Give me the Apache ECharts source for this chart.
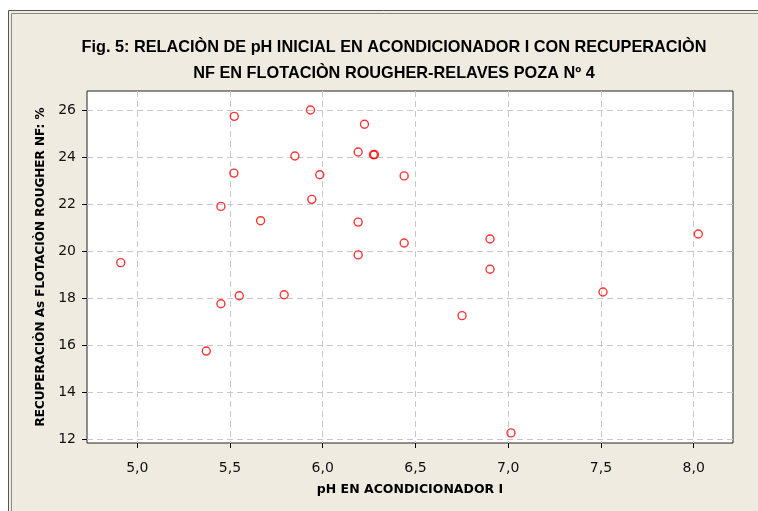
<!DOCTYPE html>
<html>
<head>
<meta charset="utf-8">
<script src="https://cdn.jsdelivr.net/npm/echarts@6/dist/echarts.min.js"></script>
<style>
html,body{margin:0;padding:0;background:#fff;}
#c{width:758px;height:511px;}
</style>
</head>
<body>
<div id="c"></div>
<script>
// pH inicial en acondicionador I
var phValues = [4.911, 5.372, 5.451, 5.451, 5.523, 5.521, 5.550, 5.665, 5.792, 5.850,
                5.934, 5.941, 5.984, 6.191, 6.225, 6.191, 6.273, 6.279, 6.191, 6.439,
                6.439, 6.751, 6.902, 6.902, 7.015, 7.511, 8.025];
// Recuperación As flotación rougher NF (%)
var recValues = [19.52, 15.75, 17.77, 21.92, 25.76, 23.34, 18.11, 21.31, 18.15, 24.07,
                 26.03, 22.22, 23.27, 24.24, 25.42, 21.25, 24.12, 24.13, 19.85, 23.22,
                 20.36, 17.26, 20.53, 19.24, 12.26, 18.27, 20.74];
var xTicks = [5.0, 5.5, 6.0, 6.5, 7.0, 7.5, 8.0];
var yTicks = [12, 14, 16, 18, 20, 22, 24, 26];
var titleText = 'Fig. 5: RELACIÒN DE pH INICIAL EN ACONDICIONADOR I CON RECUPERACIÒN\nNF EN FLOTACIÒN ROUGHER-RELAVES POZA Nº 4';
var xName = 'pH EN ACONDICIONADOR I';
var yName = 'RECUPERACIÒN As FLOTACIÒN ROUGHER NF: %';

var points = phValues.map(function (v, i) { return [v, recValues[i]]; });

var chart = echarts.init(document.getElementById('c'));
var gridDash = { color: '#c8c8c8', width: 1, type: [6, 4] };
chart.setOption({
  backgroundColor: '#ffffff',
  animation: false,
  graphic: [
    { type: 'rect', z: -10, silent: true,
      shape: { x: 8.5, y: 10.5, width: 800, height: 600 },
      style: { fill: '#efebe1', stroke: '#555555', lineWidth: 1 } },
    { type: 'rect', z: -9, silent: true,
      shape: { x: 11.5, y: 13.5, width: 800, height: 600 },
      style: { fill: null, stroke: '#8a8a8a', lineWidth: 1 } }
  ],
  title: {
    text: titleText,
    left: 389,
    top: 30,
    textAlign: 'center',
    textStyle: {
      fontFamily: 'Liberation Sans',
      fontWeight: 'bold',
      fontSize: 16.3,
      lineHeight: 26,
      color: '#000'
    }
  },
  grid: {
    left: 87, top: 91, right: 25, bottom: 68,
    show: true, backgroundColor: '#ffffff', borderColor: '#222', borderWidth: 1,
    containLabel: false
  },
  xAxis: {
    type: 'value',
    min: 4.729, max: 8.212,
    name: xName,
    nameLocation: 'middle',
    nameGap: 40,
    nameTextStyle: { fontFamily: 'DejaVu Sans', fontWeight: 'bold', fontSize: 12.5, color: '#000' },
    axisLine: { show: false },
    axisTick: { show: true, length: 5, customValues: xTicks, lineStyle: { color: '#000' } },
    axisLabel: {
      customValues: xTicks, margin: 18,
      fontFamily: 'DejaVu Sans', fontSize: 14, color: '#111',
      formatter: function (v) { return v.toFixed(1).replace('.', ','); }
    },
    splitLine: { show: true, customValues: xTicks, lineStyle: gridDash }
  },
  yAxis: {
    type: 'value',
    min: 11.83, max: 26.84,
    name: yName,
    nameLocation: 'middle',
    nameGap: 39,
    nameTextStyle: { fontFamily: 'DejaVu Sans', fontWeight: 'bold', fontSize: 12, color: '#000' },
    axisLine: { show: false },
    axisTick: { show: true, length: 5, customValues: yTicks, lineStyle: { color: '#000' } },
    axisLabel: {
      customValues: yTicks, margin: 11,
      fontFamily: 'DejaVu Sans', fontSize: 14, color: '#111'
    },
    splitLine: { show: true, customValues: yTicks, lineStyle: gridDash }
  },
  series: [{
    type: 'scatter',
    data: points,
    symbol: 'circle',
    symbolSize: 8,
    itemStyle: { color: 'rgba(255,255,255,0)', borderColor: '#ff0000', borderWidth: 1.4 }
  }]
});
</script>
</body>
</html>
